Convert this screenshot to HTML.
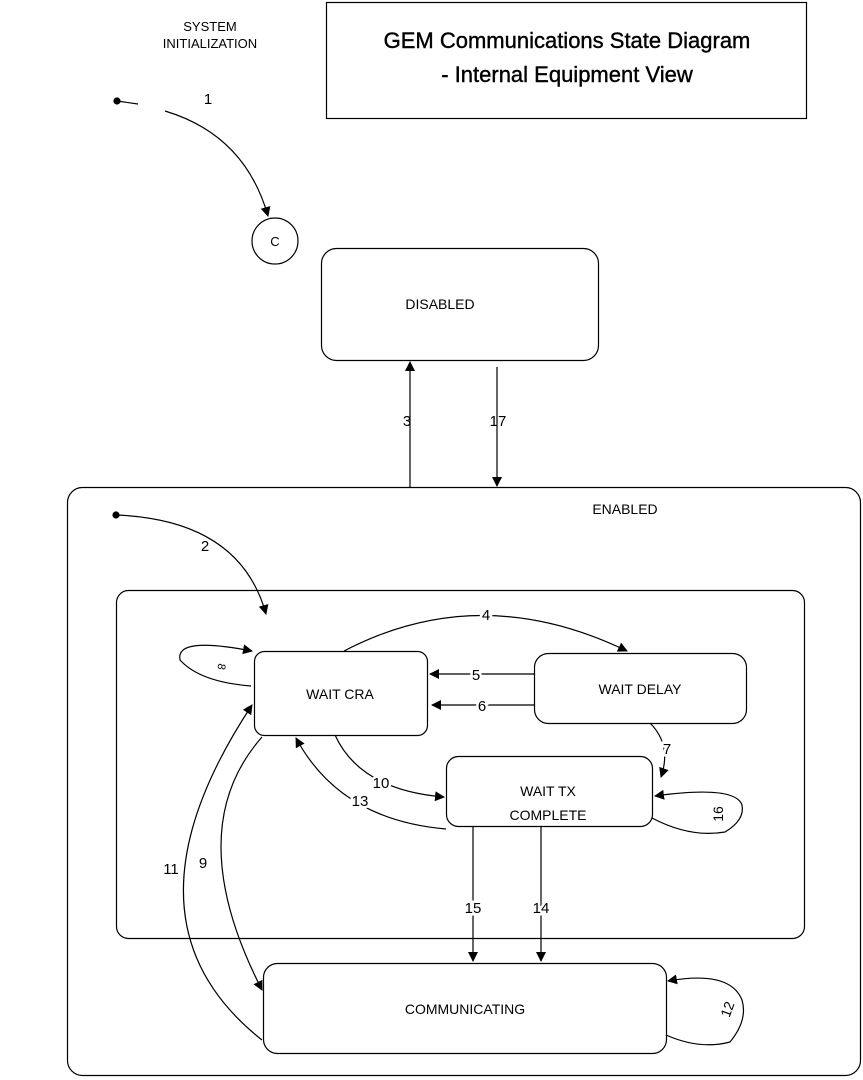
<!DOCTYPE html>
<html><head><meta charset="utf-8"><style>
html,body{margin:0;padding:0;background:#fff;}
svg{display:block;}
text{font-family:"Liberation Sans",Arial,sans-serif;fill:#000;}
</style></head><body>
<svg width="863" height="1080" viewBox="0 0 863 1080" xmlns="http://www.w3.org/2000/svg">
<defs>
<marker id="a" markerWidth="10" markerHeight="10" refX="9" refY="5" orient="auto" markerUnits="userSpaceOnUse">
<path d="M0,0 L10,5 L0,10 z" fill="#000"/></marker>
</defs>
<g fill="none" stroke="#000" stroke-width="1.2">
<rect x="326.5" y="2.5" width="480" height="116"/>
<circle cx="117" cy="101" r="3" fill="#000"/>
<line x1="117" y1="101" x2="138" y2="104"/>
<path d="M165,111 Q245,135 268,216" marker-end="url(#a)"/>
<circle cx="275" cy="241" r="23"/>
<rect x="321.5" y="248.5" width="277" height="112" rx="15"/>
<line x1="410" y1="487" x2="410" y2="362" marker-end="url(#a)"/>
<line x1="497" y1="367" x2="497" y2="486" marker-end="url(#a)"/>
<rect x="67.5" y="487.5" width="793" height="588" rx="15"/>
<circle cx="116" cy="515" r="3" fill="#000"/>
<path d="M116,515 Q240,520 266,614" marker-end="url(#a)"/>
<rect x="116.5" y="590.5" width="688" height="348" rx="12"/>
<rect x="254.5" y="651.5" width="173" height="84" rx="10"/>
<rect x="534.5" y="653.5" width="212" height="70" rx="14"/>
<rect x="446.5" y="756.5" width="206" height="70" rx="12"/>
<rect x="263.5" y="963.5" width="403" height="90" rx="14"/>
<path d="M344,651 Q480,580 627,651" marker-end="url(#a)"/>
<line x1="534" y1="674" x2="430" y2="674" marker-end="url(#a)"/>
<line x1="534" y1="705" x2="432" y2="705" marker-end="url(#a)"/>
<path d="M650,723 Q672,745 661,777" marker-end="url(#a)"/>
<path d="M251,686 Q200,682 180,660 Q175,636 252,651" marker-end="url(#a)"/>
<path d="M335,735 Q360,790 444,797" marker-end="url(#a)"/>
<path d="M446,829 Q340,820 296,738" marker-end="url(#a)"/>
<path d="M652,818 Q690,838 725,832 Q745,820 742,805 Q735,785 655,796" marker-end="url(#a)"/>
<path d="M262,737 Q180,830 262,990" marker-end="url(#a)"/>
<path d="M262,1040 Q110,920 252,705" marker-end="url(#a)"/>
<line x1="473" y1="826" x2="473" y2="961" marker-end="url(#a)"/>
<line x1="541" y1="826" x2="541" y2="961" marker-end="url(#a)"/>
<path d="M666,1035 Q700,1050 730,1042 Q748,1020 742,1000 Q730,970 668,981" marker-end="url(#a)"/>
</g>
<text x="567" y="48" font-size="22" text-anchor="middle" stroke="#000" stroke-width="0.4">GEM Communications State Diagram</text>
<text x="567" y="82" font-size="22" text-anchor="middle" stroke="#000" stroke-width="0.4">- Internal Equipment View</text>
<text x="210" y="31" font-size="13" text-anchor="middle">SYSTEM</text>
<text x="210" y="48" font-size="13" text-anchor="middle">INITIALIZATION</text>
<text x="208" y="104" font-size="15" text-anchor="middle">1</text>
<text x="275" y="246" font-size="13" text-anchor="middle">C</text>
<text x="440" y="309" font-size="14" text-anchor="middle">DISABLED</text>
<text x="407" y="426" font-size="15" text-anchor="middle">3</text>
<text x="498" y="426" font-size="15" text-anchor="middle">17</text>
<text x="625" y="514" font-size="14" text-anchor="middle">ENABLED</text>
<text x="205" y="551" font-size="15" text-anchor="middle" style="paint-order:stroke" stroke="#fff" stroke-width="4">2</text>
<text x="340" y="699" font-size="14" text-anchor="middle">WAIT CRA</text>
<text x="640" y="694" font-size="14" text-anchor="middle">WAIT DELAY</text>
<text x="548" y="796" font-size="14" text-anchor="middle">WAIT TX</text>
<text x="548" y="820" font-size="14" text-anchor="middle">COMPLETE</text>
<text x="465" y="1014" font-size="14" text-anchor="middle">COMMUNICATING</text>
<g font-size="15" text-anchor="middle" style="paint-order:stroke" stroke="#fff" stroke-width="5">
<text x="486" y="620">4</text>
<text x="476" y="680">5</text>
<text x="482" y="711">6</text>
<text x="667" y="754">7</text>
<text x="381" y="788">10</text>
<text x="360" y="806">13</text>
<text x="203" y="868">9</text>
<text x="171" y="874">11</text>
<text x="473" y="913">15</text>
<text x="541" y="913">14</text>
</g>
<text x="0" y="0" font-size="11" text-anchor="middle" transform="translate(218,666) rotate(100)">8</text>
<text x="0" y="0" font-size="14" text-anchor="middle" transform="translate(723,814) rotate(-90)">16</text>
<text x="0" y="0" font-size="14" text-anchor="middle" transform="translate(732,1011) rotate(-70)">12</text>
</svg>
</body></html>
